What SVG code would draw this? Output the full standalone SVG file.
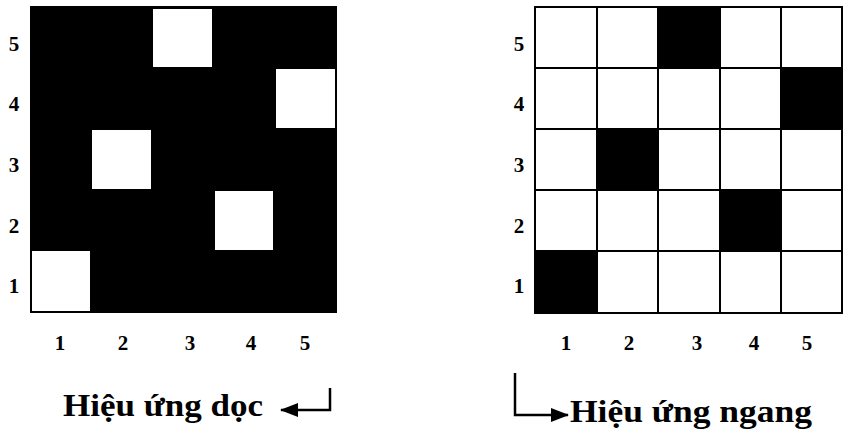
<svg xmlns="http://www.w3.org/2000/svg" width="844" height="433" viewBox="0 0 844 433">
<style>
.num{font-family:"Liberation Serif","DejaVu Serif",serif;font-weight:bold;font-size:21px;fill:#000;text-anchor:middle}
.cap{font-family:"Liberation Serif","DejaVu Serif",serif;font-weight:bold;font-size:32px;fill:#000}
.wcell{fill:#fff;stroke:none}
.bcell{fill:#000;stroke:none}
.grid{fill:none;stroke:#000;stroke-width:2}
.conn{fill:none;stroke:#000;stroke-width:2.5}
</style>
<defs>
<marker id="ah" viewBox="0 0 18 14" refX="17" refY="7" markerWidth="18" markerHeight="14" markerUnits="userSpaceOnUse" orient="auto">
<path d="M0,0 L18,7 L0,14 Z" fill="#000"/>
</marker>
</defs>
<rect width="844" height="433" fill="#fff"/>

<g id="grid-left">
<rect x="30" y="6" width="307" height="307" class="bcell"/>
<rect x="32" y="251" width="58" height="60" class="wcell"/>
<rect x="92" y="130" width="59" height="59" class="wcell"/>
<rect x="153" y="9" width="59" height="58" class="wcell"/>
<rect x="215" y="191" width="58" height="59" class="wcell"/>
<rect x="276" y="69" width="59" height="59" class="wcell"/>
</g>

<g id="labels-left">
<text class="num" x="14" y="51">5</text>
<text class="num" x="14" y="111">4</text>
<text class="num" x="14" y="172">3</text>
<text class="num" x="14" y="233">2</text>
<text class="num" x="14" y="293">1</text>
<text class="num" x="60" y="350">1</text>
<text class="num" x="123" y="350">2</text>
<text class="num" x="190" y="350">3</text>
<text class="num" x="251" y="350">4</text>
<text class="num" x="305" y="350">5</text>
</g>

<g id="grid-right">
<rect x="658" y="7" width="62" height="61" class="bcell"/>
<rect x="781" y="68" width="61" height="61" class="bcell"/>
<rect x="597" y="129" width="61" height="61" class="bcell"/>
<rect x="720" y="190" width="61" height="61" class="bcell"/>
<rect x="535" y="251" width="62" height="62" class="bcell"/>
<rect x="535" y="7" width="307" height="306" class="grid"/>
<path class="grid" d="M597,7V313M658,7V313M720,7V313M781,7V313M535,68H842M535,129H842M535,190H842M535,251H842"/>
</g>

<g id="labels-right">
<text class="num" x="519" y="51">5</text>
<text class="num" x="519" y="111">4</text>
<text class="num" x="519" y="172">3</text>
<text class="num" x="519" y="233">2</text>
<text class="num" x="519" y="293">1</text>
<text class="num" x="566" y="350">1</text>
<text class="num" x="629" y="350">2</text>
<text class="num" x="697" y="350">3</text>
<text class="num" x="754" y="350">4</text>
<text class="num" x="807" y="350">5</text>
</g>

<g id="caption-left">
<text class="cap" x="63" y="416" textLength="200" lengthAdjust="spacingAndGlyphs">Hiệu ứng dọc</text>
</g>
<g id="caption-right">
<text class="cap" x="570" y="422" textLength="242" lengthAdjust="spacingAndGlyphs">Hiệu ứng ngang</text>
</g>

<g id="connectors">
<path class="conn" d="M330,388 V410 H281" marker-end="url(#ah)"/>
<path class="conn" d="M515,373 V415 H568" marker-end="url(#ah)"/>
</g>
</svg>
